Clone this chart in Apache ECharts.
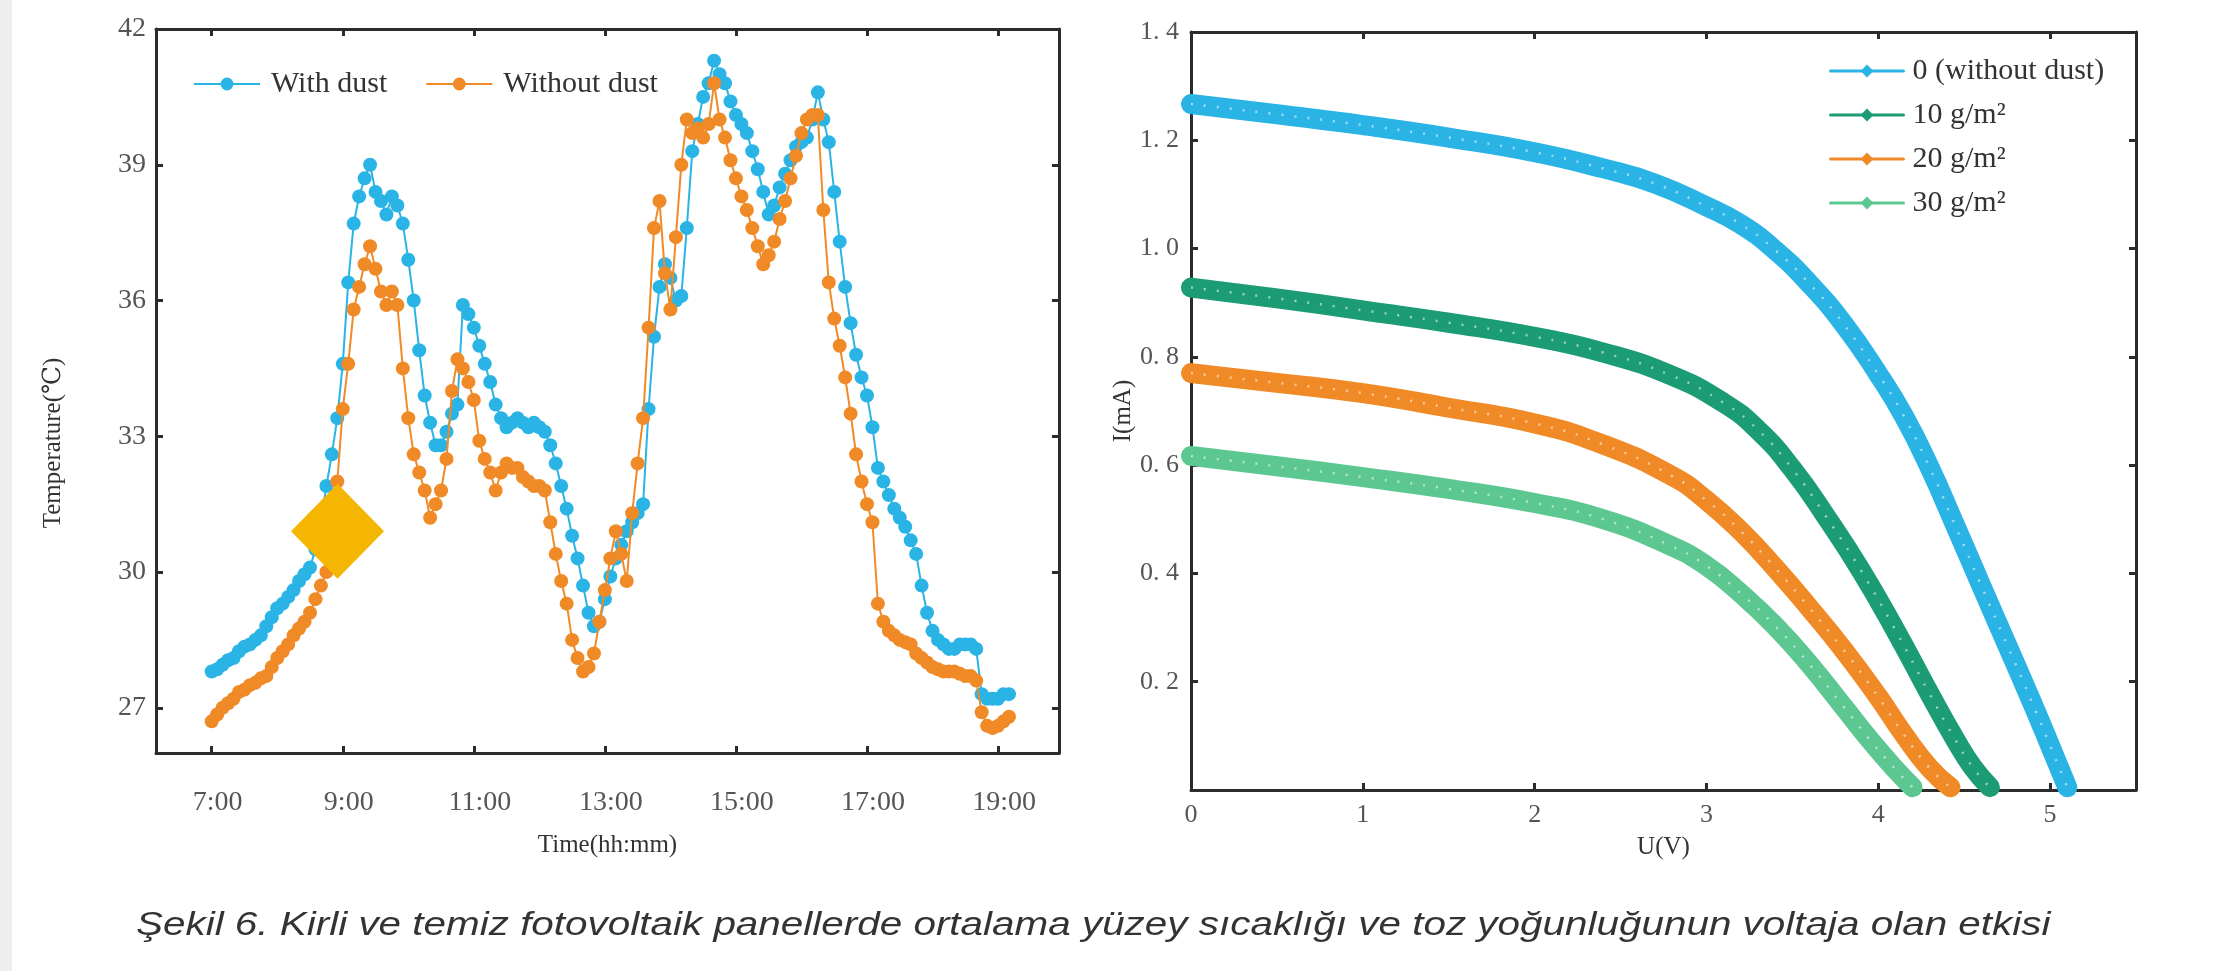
<!DOCTYPE html>
<html>
<head>
<meta charset="utf-8">
<script src="https://cdn.jsdelivr.net/npm/echarts@6/dist/echarts.min.js"></script>
<style>
html,body{margin:0;padding:0;background:#fff;}
#chart{width:2236px;height:971px;}
</style>
</head>
<body>
<div id="chart"></div>
<script>
// ---------- Left panel: surface temperature over the day ----------
const startHour = 7;          // first sample 7:00
const stepMinutes = 5;        // samples every 5 minutes
const timeTicks = [7, 9, 11, 13, 15, 17, 19];
const tempTicks = [27, 30, 33, 36, 39, 42];

const withDust = [
  27.8, 27.85, 27.95, 28.05, 28.1, 28.25, 28.35, 28.4, 28.5, 28.6, 28.8, 29.0,
  29.2, 29.3, 29.45, 29.6, 29.8, 29.95, 30.1, 30.5, 31.1, 31.9, 32.6, 33.4,
  34.6, 36.4, 37.7, 38.3, 38.7, 39.0, 38.4, 38.2, 37.9, 38.3, 38.1, 37.7,
  36.9, 36.0, 34.9, 33.9, 33.3, 32.8, 32.8, 33.1, 33.5, 33.7, 35.9, 35.7,
  35.4, 35.0, 34.6, 34.2, 33.7, 33.4, 33.2, 33.3, 33.4, 33.3, 33.2, 33.3,
  33.2, 33.1, 32.8, 32.4, 31.9, 31.4, 30.8, 30.3, 29.7, 29.1, 28.8, 28.9,
  29.4, 29.9, 30.3, 30.6, 30.9, 31.1, 31.3, 31.5, 33.6, 35.2, 36.3, 36.8,
  36.5, 36.0, 36.1, 37.6, 39.3, 39.9, 40.5, 40.8, 41.3, 41.0, 40.8, 40.4,
  40.1, 39.9, 39.7, 39.3, 38.9, 38.4, 37.9, 38.1, 38.5, 38.8, 39.1, 39.4,
  39.5, 39.6, 40.0, 40.6, 40.0, 39.5, 38.4, 37.3, 36.3, 35.5, 34.8, 34.3,
  33.9, 33.2, 32.3, 32.0, 31.7, 31.4, 31.2, 31.0, 30.7, 30.4, 29.7, 29.1,
  28.7, 28.5, 28.4, 28.3, 28.3, 28.4, 28.4, 28.4, 28.3, 27.3, 27.2, 27.2,
  27.2, 27.3, 27.3
];
const withoutDust = [
  26.7, 26.85, 27.0, 27.1, 27.2, 27.35, 27.4, 27.5, 27.55, 27.65, 27.7, 27.9,
  28.1, 28.25, 28.4, 28.6, 28.75, 28.9, 29.1, 29.4, 29.7, 30.0, 30.2, 32.0,
  33.6, 34.6, 35.8, 36.3, 36.8, 37.2, 36.7, 36.2, 35.9, 36.2, 35.9, 34.5,
  33.4, 32.6, 32.2, 31.8, 31.2, 31.5, 31.8, 32.5, 34.0, 34.7, 34.5, 34.2,
  33.8, 32.9, 32.5, 32.2, 31.8, 32.2, 32.4, 32.3, 32.3, 32.1, 32.0, 31.9,
  31.9, 31.8, 31.1, 30.4, 29.8, 29.3, 28.5, 28.1, 27.8, 27.9, 28.2, 28.9,
  29.6, 30.3, 30.9, 30.4, 29.8, 31.3, 32.4, 33.4, 35.4, 37.6, 38.2, 36.6,
  35.8, 37.4, 39.0, 40.0, 39.7, 39.8, 39.6, 39.9, 40.8, 40.0, 39.6, 39.1,
  38.7, 38.3, 38.0, 37.6, 37.2, 36.8, 37.0, 37.3, 37.8, 38.2, 38.7, 39.2,
  39.7, 40.0, 40.1, 40.1, 38.0, 36.4, 35.6, 35.0, 34.3, 33.5, 32.6, 32.0,
  31.5, 31.1, 29.3, 28.9, 28.7, 28.6, 28.5, 28.45, 28.4, 28.2, 28.1, 28.0,
  27.9, 27.85, 27.8, 27.8, 27.8, 27.75, 27.7, 27.7, 27.6, 26.9, 26.6, 26.55,
  26.6, 26.7, 26.8
];
// highlighted marker (yellow diamond) on the left panel: [hour, °C]
const highlightPoint = [[8.92, 30.9]];

// ---------- Right panel: I-V curves by dust density ----------
const ivNames = ['0 (without dust)', '10 g/m²', '20 g/m²', '30 g/m²'];
const iv0 = [[0,1.267],[0.5,1.248],[1.0,1.228],[1.5,1.205],[2.0,1.178],[2.4,1.148],[2.7,1.12],[3.0,1.078],[3.2,1.045],[3.4,0.997],[3.6,0.935],[3.8,0.86],[4.0,0.768],[4.15,0.69],[4.3,0.595],[4.45,0.487],[4.6,0.377],[4.75,0.268],[4.9,0.158],[5.0,0.082],[5.1,0.005]];
const iv10 = [[0,0.928],[0.5,0.908],[1.0,0.886],[1.5,0.863],[2.0,0.837],[2.4,0.808],[2.8,0.765],[3.1,0.715],[3.3,0.665],[3.5,0.593],[3.7,0.503],[3.9,0.405],[4.1,0.295],[4.3,0.177],[4.45,0.092],[4.55,0.042],[4.65,0.005]];
const iv20 = [[0,0.77],[0.5,0.752],[1.0,0.733],[1.5,0.706],[2.0,0.677],[2.4,0.638],[2.8,0.58],[3.0,0.535],[3.2,0.478],[3.4,0.41],[3.6,0.336],[3.8,0.258],[4.0,0.172],[4.15,0.102],[4.3,0.04],[4.42,0.005]];
const iv30 = [[0,0.617],[0.5,0.598],[1.0,0.578],[1.5,0.556],[2.0,0.53],[2.4,0.5],[2.8,0.45],[3.0,0.414],[3.2,0.363],[3.4,0.303],[3.6,0.232],[3.8,0.153],[3.95,0.093],[4.1,0.038],[4.2,0.005]];
const voltTicks = [0, 1, 2, 3, 4, 5];
const currentTicks = [0.2, 0.4, 0.6, 0.8, 1.0, 1.2, 1.4];

const caption = 'Şekil 6. Kirli ve temiz fotovoltaik panellerde ortalama yüzey sıcaklığı ve toz yoğunluğunun voltaja olan etkisi';

// ---------- build ----------
const toPairs = arr => arr.map((v, i) => [startHour + i * stepMinutes / 60, v]);
const serif = "'Liberation Serif','DejaVu Serif',serif";
const axisColor = '#2b2b2b';
const labelColor = '#555';
const blue = '#2AB4E6', orange = '#F08A26', green = '#1B9C74', lightGreen = '#5DC792';

function frameAxis(extra) {
  return Object.assign({
    type: 'value',
    axisLine: {show: true, onZero: false, lineStyle: {color: axisColor, width: 3}},
    axisTick: {show: true, inside: true, length: 7, lineStyle: {color: axisColor, width: 3}},
    splitLine: {show: false},
    axisLabel: {show: false}
  }, extra);
}
function ticks(values) {
  return {show: true, inside: true, length: 7, customValues: values, lineStyle: {color: axisColor, width: 3}};
}

const chart = echarts.init(document.getElementById('chart'), null, {renderer: 'canvas'});
const ivSeries = [iv0, iv10, iv20, iv30];
const ivColors = [blue, green, orange, lightGreen];

const series = [
  {
    name: 'With dust', type: 'line', xAxisIndex: 0, yAxisIndex: 0,
    data: toPairs(withDust), symbol: 'circle', symbolSize: 14,
    itemStyle: {color: blue}, lineStyle: {color: blue, width: 2}, z: 3
  },
  {
    name: 'Without dust', type: 'line', xAxisIndex: 0, yAxisIndex: 0,
    data: toPairs(withoutDust), symbol: 'circle', symbolSize: 14,
    itemStyle: {color: orange}, lineStyle: {color: orange, width: 2}, z: 4
  },
  {
    name: 'highlight', type: 'scatter', xAxisIndex: 0, yAxisIndex: 0,
    data: highlightPoint, symbol: 'diamond', symbolSize: [93, 95],
    itemStyle: {color: '#F5B602', opacity: 1}, z: 10, silent: true
  }
];
ivSeries.forEach((d, k) => {
  series.push({
    name: ivNames[k], type: 'line', xAxisIndex: 2, yAxisIndex: 2,
    data: d, smooth: 0.5, symbol: 'diamond', symbolSize: 14, showSymbol: false,
    itemStyle: {color: ivColors[k]},
    lineStyle: {color: ivColors[k], width: 20, cap: 'round', join: 'round'}, z: 3
  });
  series.push({
    name: ivNames[k] + ' centre', type: 'line', xAxisIndex: 2, yAxisIndex: 2,
    data: d, smooth: 0.5, showSymbol: false, silent: true,
    lineStyle: {color: 'rgba(255,255,255,0.55)', width: 2.5, type: [2, 11]}, z: 4
  });
});

const option = {
  animation: false,
  backgroundColor: '#ffffff',
  textStyle: {fontFamily: serif},
  grid: [
    {left: 156, top: 29, width: 903, height: 724},
    {left: 1191, top: 32, width: 945, height: 758}
  ],
  legend: [
    {
      data: ['With dust', 'Without dust'], left: 188, top: 64,
      itemWidth: 66, itemHeight: 16, itemGap: 38,
      lineStyle: {width: 2},
      textStyle: {fontFamily: serif, fontSize: 30, color: '#333', padding: [0, 0, 0, 6]}
    },
    {
      data: ivNames, orient: 'vertical', left: 1824, top: 51,
      itemWidth: 73, itemHeight: 16, itemGap: 14,
      lineStyle: {width: 3},
      textStyle: {fontFamily: serif, fontSize: 30, color: '#333', padding: [0, 0, 0, 4]}
    }
  ],
  xAxis: [
    frameAxis({
      gridIndex: 0, position: 'bottom', min: 6.15, max: 19.93,
      name: 'Time(hh:mm)', nameLocation: 'middle', nameGap: 80,
      nameTextStyle: {fontFamily: serif, fontSize: 25, color: '#333'},
      axisTick: ticks(timeTicks),
      axisLabel: {show: true, customValues: timeTicks, margin: 36, fontSize: 28, color: labelColor, fontFamily: serif,
        padding: [0, 0, 0, 12], formatter: v => Math.round(v) + ':00'}
    }),
    frameAxis({gridIndex: 0, position: 'top', min: 6.15, max: 19.93, axisTick: ticks(timeTicks)}),
    frameAxis({
      gridIndex: 1, position: 'bottom', min: 0, max: 5.5,
      name: 'U(V)', nameLocation: 'middle', nameGap: 45,
      nameTextStyle: {fontFamily: serif, fontSize: 25, color: '#333'},
      axisTick: ticks(voltTicks),
      axisLabel: {show: true, customValues: voltTicks, margin: 12, fontSize: 26, color: labelColor, fontFamily: serif}
    }),
    frameAxis({gridIndex: 1, position: 'top', min: 0, max: 5.5, axisTick: ticks(voltTicks)})
  ],
  yAxis: [
    frameAxis({
      gridIndex: 0, position: 'left', min: 26, max: 42,
      name: 'Temperature(℃)', nameLocation: 'middle', nameGap: 90,
      nameTextStyle: {fontFamily: serif, fontSize: 25, color: '#333', padding: [0, 104, 0, 0]},
      axisTick: ticks(tempTicks),
      axisLabel: {show: true, customValues: tempTicks, margin: 10, fontSize: 28, color: labelColor, fontFamily: serif}
    }),
    frameAxis({gridIndex: 0, position: 'right', min: 26, max: 42, axisTick: ticks(tempTicks)}),
    frameAxis({
      gridIndex: 1, position: 'left', min: 0, max: 1.4,
      name: 'I(mA)', nameLocation: 'middle', nameGap: 50,
      nameTextStyle: {fontFamily: serif, fontSize: 25, color: '#333'},
      axisTick: ticks(currentTicks),
      axisLabel: {show: true, customValues: currentTicks, margin: 12, fontSize: 26, color: labelColor, fontFamily: serif,
        formatter: v => v.toFixed(1).replace('.', '. ')}
    }),
    frameAxis({gridIndex: 1, position: 'right', min: 0, max: 1.4, axisTick: ticks(currentTicks)})
  ],
  graphic: [
    {type: 'rect', left: 0, top: 0, z: -10, shape: {width: 12, height: 971}, style: {fill: '#eceef0'}},
    {
      type: 'text', x: 136, y: 909, scaleX: 1.225, z: 5,
      style: {text: caption, font: "italic 33px 'Liberation Sans', Arial, sans-serif", fill: '#333'}
    }
  ],
  series: series
};
chart.setOption(option);
</script>
</body>
</html>
